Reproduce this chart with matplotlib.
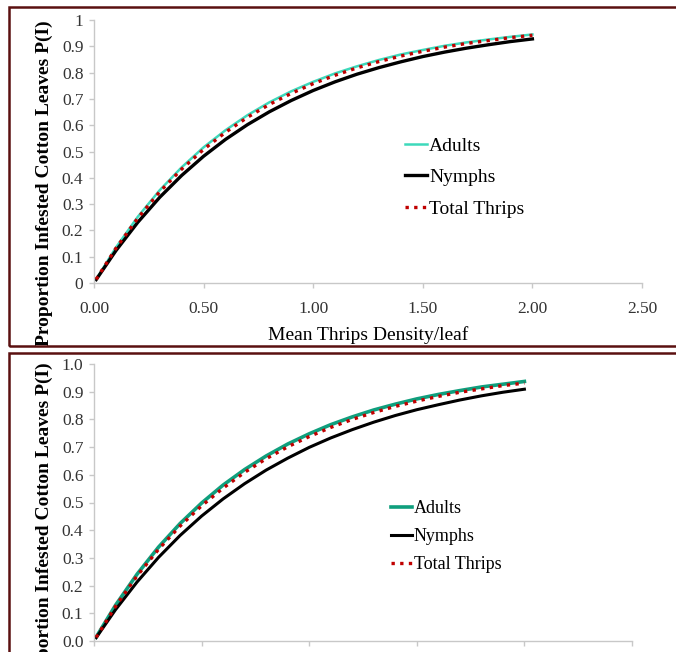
import matplotlib.pyplot as plt
from matplotlib.patches import Rectangle

### Data ###
density = [0.01, 0.1, 0.2, 0.3, 0.4, 0.5, 0.6, 0.7, 0.8, 0.9, 1.0,
           1.1, 1.2, 1.3, 1.4, 1.5, 1.6, 1.7, 1.8, 1.9, 2.0]

## Top panel
top_adults = [0.014, 0.135, 0.252, 0.353, 0.440, 0.516, 0.581, 0.638, 0.687, 0.729, 0.765,
              0.797, 0.824, 0.848, 0.869, 0.886, 0.902, 0.915, 0.926, 0.936, 0.945]
top_nymphs = [0.013, 0.123, 0.231, 0.326, 0.409, 0.482, 0.546, 0.602, 0.651, 0.694, 0.732,
              0.765, 0.794, 0.819, 0.841, 0.861, 0.878, 0.893, 0.906, 0.918, 0.928]
top_total = [0.014, 0.132, 0.247, 0.347, 0.433, 0.508, 0.573, 0.630, 0.679, 0.721, 0.758,
             0.790, 0.818, 0.842, 0.863, 0.881, 0.897, 0.911, 0.922, 0.933, 0.942]

## Bottom panel
bot_adults = [0.014, 0.129, 0.241, 0.339, 0.424, 0.498, 0.563, 0.619, 0.668, 0.711, 0.748,
              0.781, 0.809, 0.834, 0.855, 0.874, 0.890, 0.904, 0.917, 0.927, 0.937]
bot_nymphs = [0.012, 0.113, 0.213, 0.302, 0.381, 0.451, 0.513, 0.568, 0.617, 0.660, 0.699,
              0.733, 0.763, 0.790, 0.814, 0.835, 0.853, 0.870, 0.885, 0.898, 0.909]
bot_total = [0.013, 0.125, 0.235, 0.331, 0.415, 0.488, 0.552, 0.609, 0.658, 0.701, 0.738,
             0.771, 0.800, 0.825, 0.847, 0.866, 0.883, 0.898, 0.910, 0.922, 0.931]

x_ticks = [0.0, 0.5, 1.0, 1.5, 2.0, 2.5]
y_ticks = [0.0, 0.1, 0.2, 0.3, 0.4, 0.5, 0.6, 0.7, 0.8, 0.9, 1.0]
top_ylabels = ['0', '0.1', '0.2', '0.3', '0.4', '0.5', '0.6', '0.7', '0.8', '0.9', '1']
bot_ylabels = ['%.1f' % v for v in y_ticks]

plt.rcParams['font.family'] = ['Liberation Serif', 'DejaVu Serif']

W, H = 676, 652
fig = plt.figure(figsize=(W / 100, H / 100), dpi=100)

def fig_rect(x0, y0, x1, y1):
    # pixel box (top-left origin) -> figure fraction [l, b, w, h]
    return [x0 / W, 1 - y1 / H, (x1 - x0) / W, (y1 - y0) / H]

## Panel borders
for (x0, y0, x1, y1) in [(9, 7, 680, 346), (9, 353, 680, 660)]:
    l, b, w, h = fig_rect(x0, y0, x1, y1)
    fig.patches.append(Rectangle((l, b), w, h, transform=fig.transFigure,
                                 fill=False, edgecolor='#5a1010', linewidth=1.8,
                                 clip_on=False))

ax1 = fig.add_axes(fig_rect(94, 20, 642, 283))
ax2 = fig.add_axes(fig_rect(94, 364, 632, 641))

def style_axes(ax, ylabels, ylab_x, ylab_y):
    ax.set_xlim(0, 2.5)
    ax.set_ylim(0, 1.0)
    for s in ['top', 'right']:
        ax.spines[s].set_visible(False)
    for s in ['left', 'bottom']:
        ax.spines[s].set_color('#c8c8c8')
        ax.spines[s].set_linewidth(1.0)
    ax.set_xticks(x_ticks)
    ax.set_yticks(y_ticks)
    ax.set_yticklabels(ylabels)
    ax.tick_params(axis='both', direction='out', length=3.6, width=1,
                   color='#c8c8c8', labelsize=12.5, labelcolor='#333333')
    ax.tick_params(axis='x', pad=9.5)
    ax.tick_params(axis='y', pad=4)
    ax.set_ylabel('Proportion Infested Cotton Leaves P(I)', fontsize=14,
                  fontweight='bold')
    ax.yaxis.set_label_coords(ylab_x, ylab_y)

## Top panel
ax1.plot(density, top_adults, color='#3dd9bb', linewidth=1.8, label='Adults', zorder=2)
ax1.plot(density, top_nymphs, color='black', linewidth=2.4, label='Nymphs', zorder=2)
ax1.plot(density, top_total, color='#c00000', linewidth=2.4, linestyle=(0, (1, 1.6)),
         label='Total Thrips', zorder=3)
style_axes(ax1, top_ylabels, (53 - 94) / 548, 0.38)
ax1.set_xticklabels(['%.2f' % v for v in x_ticks])
ax1.set_xlabel('Mean Thrips Density/leaf', fontsize=14, labelpad=6.5)
ax1.legend(loc='upper left', bbox_to_anchor=((405 - 94) / 548, (283 - 137) / 263),
           frameon=False, fontsize=14, handlelength=1.15, handletextpad=0.1,
           labelspacing=0.72, borderpad=0, borderaxespad=0)

## Bottom panel
ax2.plot(density, bot_adults, color='#0f9f7d', linewidth=2.6, label='Adults', zorder=2)
ax2.plot(density, bot_nymphs, color='black', linewidth=2.2, label='Nymphs', zorder=2)
ax2.plot(density, bot_total, color='#c00000', linewidth=2.4, linestyle=(0, (1, 1.6)),
         label='Total Thrips', zorder=3)
style_axes(ax2, bot_ylabels, (53 - 94) / 538, 0.417)
ax2.set_xticklabels([])
ax2.legend(loc='upper left', bbox_to_anchor=((391 - 94) / 538, (641 - 500) / 277),
           frameon=False, fontsize=13, handlelength=1.15, handletextpad=0.1,
           labelspacing=0.62, borderpad=0, borderaxespad=0)

fig.savefig('out.png', dpi=100)
